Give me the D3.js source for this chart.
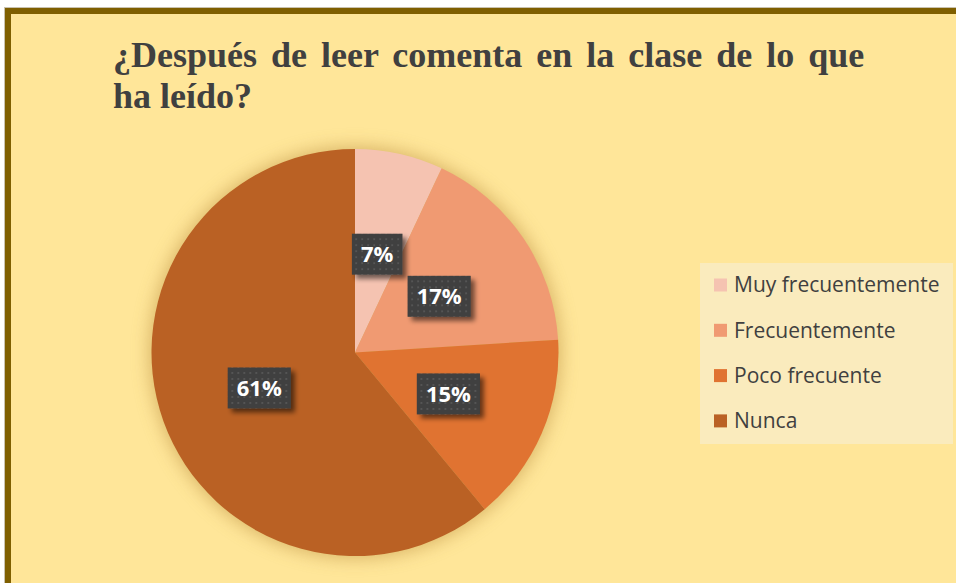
<!DOCTYPE html>
<html>
<head>
<meta charset="utf-8">
<script src="https://cdn.jsdelivr.net/npm/d3@7"></script>
<style>
  html, body { margin: 0; padding: 0; background: #ffffff; }
  svg { display: block; }
</style>
</head>
<body>
<svg id="chart" width="956" height="583"></svg>
<script>
// Survey answers and their shares (percent)
const categories = ["Muy frecuentemente", "Frecuentemente", "Poco frecuente", "Nunca"];
const values = [7, 17, 15, 61];
const colors = ["#F5C3B1", "#F09A72", "#E07331", "#BA6124"];
const title = ["¿Después de leer comenta en la clase de lo que", "ha leído?"];

const svg = d3.select("#chart");
const W = 956, H = 583;

const defs = svg.append("defs");

// soft glow behind the pie
const glow = defs.append("filter").attr("id", "glow")
  .attr("x", "-30%").attr("y", "-30%").attr("width", "160%").attr("height", "160%");
glow.append("feGaussianBlur").attr("stdDeviation", 9);

// drop shadow for the value boxes
const shadow = defs.append("filter").attr("id", "boxShadow")
  .attr("x", "-30%").attr("y", "-30%").attr("width", "170%").attr("height", "180%");
shadow.append("feGaussianBlur").attr("in", "SourceAlpha").attr("stdDeviation", 2.5).attr("result", "b");
shadow.append("feOffset").attr("in", "b").attr("dx", 4).attr("dy", 4).attr("result", "o");
shadow.append("feComponentTransfer").attr("in", "o").attr("result", "s")
  .append("feFuncA").attr("type", "linear").attr("slope", 0.55);
const merge = shadow.append("feMerge");
merge.append("feMergeNode").attr("in", "s");
merge.append("feMergeNode").attr("in", "SourceGraphic");

// dotted texture for the value boxes
const pat = defs.append("pattern").attr("id", "dots")
  .attr("patternUnits", "userSpaceOnUse").attr("width", 6).attr("height", 6);
pat.append("rect").attr("width", 6).attr("height", 6).attr("fill", "#3F3F3F");
pat.append("rect").attr("x", 2).attr("y", 2).attr("width", 2).attr("height", 2).attr("fill", "#545454");

// page frame
svg.append("rect").attr("x", 0).attr("y", 0).attr("width", W).attr("height", H).attr("fill", "#ffffff");
svg.append("rect").attr("x", 4).attr("y", 7).attr("width", W - 4).attr("height", H - 7).attr("fill", "#C9C2B0");
svg.append("rect").attr("x", 5).attr("y", 8).attr("width", W - 5).attr("height", H - 8).attr("fill", "#7F5F00");
svg.append("rect").attr("x", 11).attr("y", 14).attr("width", W - 11).attr("height", H - 14).attr("fill", "#FFE699");

// title (first line is justified, so its word gaps are wider)
svg.append("text")
  .attr("x", 113).attr("y", 67)
  .attr("font-family", "'Liberation Serif', 'Times New Roman', serif")
  .attr("font-weight", "bold").attr("font-size", 36)
  .attr("fill", "#404040")
  .selectAll("tspan").data(title).join("tspan")
  .attr("x", 113).attr("dy", (d, i) => i === 0 ? 0 : 41)
  .attr("word-spacing", (d, i) => i === 0 ? 5 : 0)
  .text(d => d);

// pie
const cx = 355, cy = 352.5, R = 203.5;
const pie = d3.pie().sort(null).value(d => d)(values);
const arc = d3.arc().innerRadius(0).outerRadius(R);
const labelArc = d3.arc().innerRadius(0).outerRadius(R);

const g = svg.append("g").attr("transform", `translate(${cx},${cy})`);
g.append("circle").attr("r", R + 2).attr("fill", "#B88A3A").attr("opacity", 0.55).attr("filter", "url(#glow)");

g.selectAll("path.slice").data(pie).join("path")
  .attr("class", "slice")
  .attr("d", arc)
  .attr("fill", (d, i) => colors[i]);

// value boxes
const lab = g.selectAll("g.lab").data(pie).join("g")
  .attr("class", "lab")
  .attr("transform", d => {
    const [x, y] = labelArc.centroid(d);
    return `translate(${x},${y + 1})`;
  });

lab.each(function(d) {
  const sel = d3.select(this);
  const t = sel.append("text")
    .attr("text-anchor", "middle")
    .attr("dy", "0.36em")
    .attr("font-family", "'Open Sans', 'Liberation Sans', sans-serif")
    .attr("font-weight", "bold").attr("font-size", 22)
    .attr("fill", "#ffffff")
    .text(d.data + "%");
  const bb = t.node().getBBox();
  const w = bb.width + 18, h = 41;
  sel.insert("rect", "text")
    .attr("x", -w / 2).attr("y", -h / 2)
    .attr("width", w).attr("height", h)
    .attr("fill", "url(#dots)")
    .attr("filter", "url(#boxShadow)");
});

// legend
const lg = svg.append("g");
lg.append("rect").attr("x", 700).attr("y", 263).attr("width", 253).attr("height", 181).attr("fill", "#FAEBBD");
const rows = lg.selectAll("g.row").data(categories).join("g")
  .attr("class", "row")
  .attr("transform", (d, i) => `translate(714,${285 + i * 45.3})`);
rows.append("rect").attr("x", 0).attr("y", -6.5).attr("width", 13).attr("height", 13)
  .attr("fill", (d, i) => colors[i]);
rows.append("text").attr("x", 20).attr("dy", "0.35em")
  .attr("font-family", "'Open Sans', 'Liberation Sans', sans-serif")
  .attr("font-size", 21).attr("fill", "#404040")
  .text(d => d);
</script>
</body>
</html>
